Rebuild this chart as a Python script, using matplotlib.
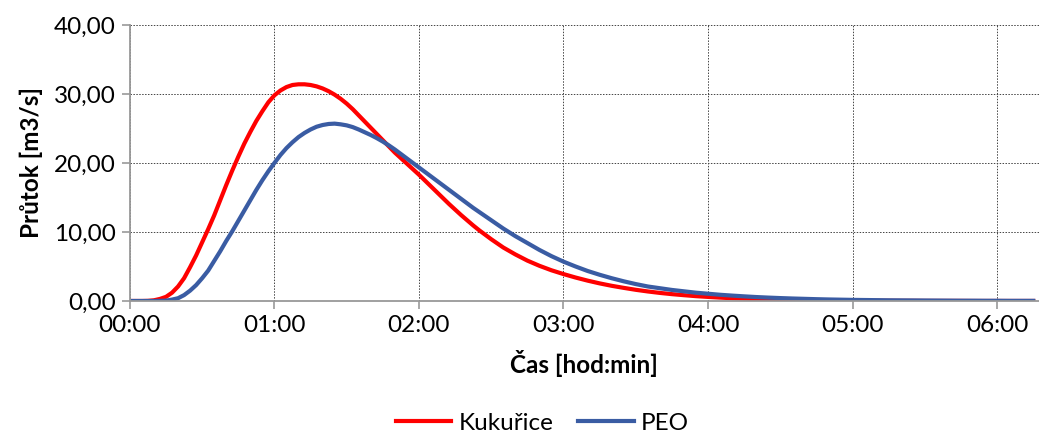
import matplotlib.pyplot as plt
import matplotlib.ticker as mticker

# čas v hodinách: do 2:30 po 2,5 min, dále po 5 min
cas = [k / 24 for k in range(60)] + [k / 12 for k in range(30, 76)]

kukurice = [0.0, 0.0, 0.0, 0.02, 0.1, 0.3, 0.6, 1.2, 2.1, 3.3,
            4.9, 6.6, 8.5, 10.4, 12.4, 14.6, 16.8, 18.9, 20.9, 22.8,
            24.5, 26.1, 27.5, 28.8, 29.8, 30.5, 31.0, 31.3, 31.4, 31.4,
            31.3, 31.1, 30.8, 30.4, 29.9, 29.3, 28.6, 27.8, 26.9, 26.0,
            25.1, 24.2, 23.3, 22.4, 21.5, 20.7, 19.9, 19.1, 18.3, 17.45,
            16.6, 15.75, 14.9, 14.05, 13.25, 12.45, 11.7, 10.95, 10.25, 9.6,
            8.95, 7.75, 6.75, 5.85, 5.1, 4.45,
            3.9, 3.4, 2.95, 2.55, 2.2, 1.9, 1.62, 1.38, 1.17, 0.99, 0.84, 0.7,
            0.59, 0.49, 0.4, 0.33, 0.27, 0.22, 0.18, 0.14, 0.11, 0.09, 0.07, 0.06,
            0.05, 0.04, 0.03, 0.03, 0.02, 0.02, 0.01, 0.01, 0.01, 0.01, 0.0, 0.0,
            0.0, 0.0, 0.0, 0.0]

peo = [0.0, 0.0, 0.0, 0.0, 0.0, 0.02, 0.05, 0.2, 0.4, 0.85,
       1.5, 2.3, 3.3, 4.4, 5.8, 7.2, 8.7, 10.1, 11.6, 13.1,
       14.6, 16.1, 17.5, 18.8, 20.0, 21.15, 22.15, 23.0, 23.75, 24.35,
       24.85, 25.25, 25.5, 25.65, 25.7, 25.6, 25.45, 25.2, 24.85, 24.45,
       24.05, 23.6, 23.1, 22.55, 21.95, 21.3, 20.65, 20.0, 19.35, 18.7,
       18.05, 17.4, 16.75, 16.1, 15.45, 14.8, 14.15, 13.5, 12.9, 12.3,
       11.7, 10.5, 9.4, 8.4, 7.4, 6.5,
       5.7, 5.0, 4.35, 3.8, 3.3, 2.85, 2.45, 2.1, 1.85, 1.6, 1.4, 1.2,
       1.05, 0.9, 0.78, 0.67, 0.57, 0.49, 0.42, 0.36, 0.31, 0.26, 0.22, 0.19,
       0.16, 0.14, 0.12, 0.1, 0.09, 0.08, 0.07, 0.06, 0.05, 0.04, 0.04, 0.03,
       0.03, 0.02, 0.02, 0.02]

plt.rcParams['font.family'] = ['Lato', 'DejaVu Sans']
fs = 17.5

fig = plt.figure(figsize=(10.39, 4.34), dpi=100)
ax = fig.add_axes([0.125, 0.3065, 0.875, 0.636])

ax.plot(cas, kukurice, color='#ff0000', lw=3, label='Kukuřice', solid_joinstyle='round')
ax.plot(cas, peo, color='#3a5ca3', lw=3, label='PEO', solid_joinstyle='round')

ax.set_xlim(0, 6.29)
ax.set_ylim(0, 40)
ax.set_xticks(range(7))
ax.set_yticks(range(0, 41, 10))
ax.xaxis.set_major_formatter(mticker.FuncFormatter(lambda v, p: '%02d:%02d' % (int(v), round((v % 1) * 60))))
ax.yaxis.set_major_formatter(mticker.FuncFormatter(lambda v, p: ('%.2f' % v).replace('.', ',')))

ax.grid(True, color='#444444', ls=(0, (1.5, 1.5)), lw=0.7)
ax.set_axisbelow(True)
for s in ['top', 'right']:
    ax.spines[s].set_visible(False)
for s in ['left', 'bottom']:
    ax.spines[s].set_color('#999999')
    ax.spines[s].set_linewidth(1.3)
ax.tick_params(direction='out', length=6, width=1.2, color='#999999', labelsize=fs, pad=4)

ax.set_xlabel('Čas [hod:min]', fontsize=fs, fontweight='bold', labelpad=10)
ax.set_ylabel('Průtok [m3/s]', fontsize=fs, fontweight='bold', labelpad=8)

fig.legend(loc='lower center', bbox_to_anchor=(0.522, -0.05), ncol=2, frameon=False,
           fontsize=fs, handlelength=2.3, columnspacing=1.0, handletextpad=0.3)

fig.savefig('out.png', dpi=100)
